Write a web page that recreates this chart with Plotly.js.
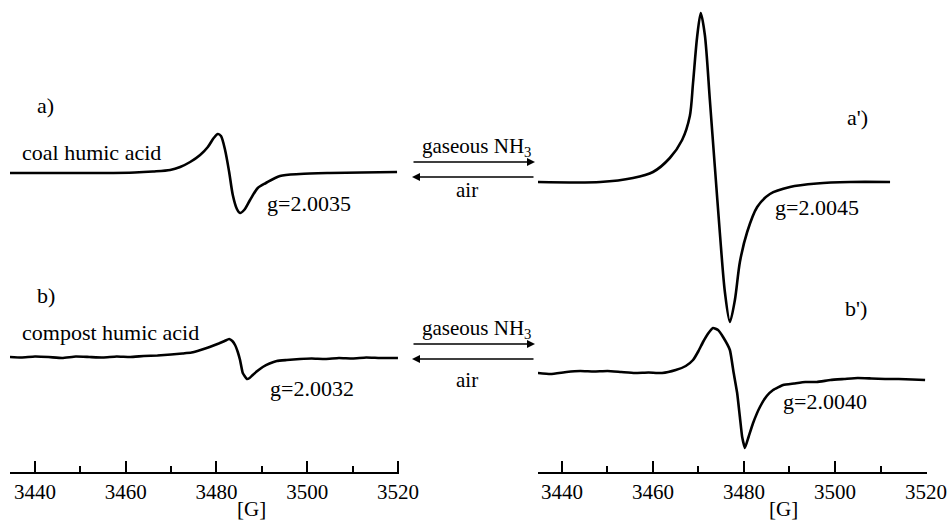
<!DOCTYPE html>
<html>
<head>
<meta charset="utf-8">
<script src="https://cdn.plot.ly/plotly-3.0.1.min.js"></script>
<style>
html,body{margin:0;padding:0;background:#fff;}
#chart{width:949px;height:523px;}
</style>
</head>
<body>
<div id="chart"></div>
<script>
// Magnetic field [G] and EPR signal amplitude (arbitrary units) for each spectrum
const coalField = [3434.5, 3445, 3455, 3462, 3466, 3469.8, 3472, 3474.2, 3476.4, 3478.1, 3479.4, 3480.3, 3481, 3481.9, 3482.8, 3483.6, 3484.5, 3485.2, 3486.1, 3487.4, 3489.1, 3490.9, 3494, 3498.4, 3505, 3512, 3519.8];
const coalSignal = [0, 0, 0, 0.5, 1.5, 3, 6, 11, 18, 26, 35, 39, 37, 23, 1, -22, -36, -40, -37, -27, -15, -10, -3, -1, 0, 0.5, 1];

const coalNH3Field = [3434.7, 3448.4, 3455.6, 3460, 3463.7, 3466.4, 3468.1, 3468.8, 3469.7, 3470.5, 3471.4, 3472.5, 3473.6, 3474.7, 3475.8, 3476.9, 3478, 3479.1, 3480.7, 3482.9, 3485.7, 3490.1, 3496, 3503.3, 3512.1];
const coalNH3Signal = [0, 0, 4, 10, 24, 42, 66, 99, 145, 169, 147, 82, 15, -51, -110, -140, -118, -80, -50, -25, -12, -5, -1.5, 0, 0];

const compostField = [3434.5, 3437, 3440, 3443, 3446, 3449, 3452, 3455, 3458, 3461, 3464, 3467, 3470, 3472.5, 3474.5, 3476.5, 3478.5, 3480.5, 3481.8, 3482.8, 3483.5, 3484.1, 3484.7, 3485.2, 3485.8, 3486.7, 3487.3, 3488, 3489, 3490.2, 3491.7, 3493.3, 3495.5, 3498.4, 3501, 3504, 3507, 3510, 3513, 3516, 3520];
const compostSignal = [0, -0.5, 0.5, 0, -1, 0.5, 0, -0.5, 0.5, 0, 1, 1.5, 2.5, 3.5, 4.5, 7, 10, 13.5, 16, 18, 16, 12, 5, -3, -16, -22, -21, -18, -14, -10, -6.5, -4, -3, -2, -1.5, -2, -1, -1.5, -0.5, -1, -1];

const compostNH3Field = [3434.7, 3437.5, 3441, 3444, 3447, 3450, 3453, 3456, 3459, 3462, 3465, 3467.2, 3468.8, 3470, 3471, 3472.2, 3473.2, 3474.3, 3475.4, 3476.9, 3477.7, 3478.5, 3479.1, 3479.6, 3480.2, 3481, 3482, 3483.5, 3485, 3486.4, 3488.6, 3491, 3493.5, 3496, 3499, 3502, 3505, 3508, 3511, 3514, 3517, 3519.8];
const compostNH3Signal = [-1, -2, 0, 1, 0.5, 1, 0, -1, -0.5, -1, 2, 6, 12, 21, 30, 39, 44, 42, 35, 22, 0, -21, -45, -65, -76, -65, -51, -35, -24, -18, -13, -11.5, -10, -10, -8, -7, -6, -6.5, -7, -7, -7.5, -8];

const tickValues = [3440, 3460, 3480, 3500, 3520];
const minorTickValues = [3450, 3470, 3490, 3510];
const tickLabels = ['3440', '3460', '3480', '3500', '3520'];

(function () {
  // vertical stacking offsets of the spectra
  const offsets = {a: 299, a2: 290, b: 115, b2: 100};
  const shift = (arr, o) => arr.map(v => v + o);

  const W = 949, H = 523;
  const toPx = x => x / W;
  const toPy = y => 1 - y / H;
  const fam = 'Liberation Serif';
  const lineStyle = {color: '#000', width: 2.6};
  const smooth = {color: '#000', width: 2.6, shape: 'spline', smoothing: 0.8};
  const lightSmooth = {color: '#000', width: 2.6, shape: 'spline', smoothing: 0.4};

  const traces = [
    {x: coalField, y: shift(coalSignal, offsets.a), xaxis: 'x', yaxis: 'y', mode: 'lines', line: smooth},
    {x: compostField, y: shift(compostSignal, offsets.b), xaxis: 'x', yaxis: 'y', mode: 'lines', line: lightSmooth},
    {x: coalNH3Field, y: shift(coalNH3Signal, offsets.a2), xaxis: 'x2', yaxis: 'y', mode: 'lines', line: smooth},
    {x: compostNH3Field, y: shift(compostNH3Signal, offsets.b2), xaxis: 'x2', yaxis: 'y', mode: 'lines', line: lightSmooth}
  ];

  function makeAxis(domain, range) {
    return {
      domain: domain, range: range,
      tickmode: 'array', tickvals: tickValues, ticktext: tickLabels,
      showline: true, linecolor: '#000', linewidth: 2,
      ticks: 'inside', ticklen: 11, tickwidth: 2, tickcolor: '#000',
      minor: {tickmode: 'array', tickvals: minorTickValues, ticks: 'inside', ticklen: 6, tickwidth: 2, tickcolor: '#000'},
      showgrid: false, zeroline: false,
      tickfont: {family: fam, size: 21, color: '#000'},
      anchor: 'y'
    };
  }

  function label(text, x, y, xanchor, size) {
    return {text: text, x: toPx(x), y: toPy(y), xref: 'paper', yref: 'paper', showarrow: false,
      xanchor: xanchor || 'left', yanchor: 'middle', font: {family: fam, size: size || 22, color: '#000'}};
  }
  function arrowAnn(xHead, yHead, dx) {
    return {text: '', x: toPx(xHead), y: toPy(yHead), xref: 'paper', yref: 'paper', showarrow: true,
      ax: dx, ay: 0, arrowhead: 2, arrowsize: 1, arrowwidth: 1.6, arrowcolor: '#000'};
  }

  const annotations = [
    label('a)', 35, 105),
    label('coal humic acid', 20, 152),
    label('g=2.0035', 265, 203),
    label("a')", 845, 117),
    label('g=2.0045', 773, 207),
    label('b)', 35, 295),
    label('compost humic acid', 20, 332),
    label('g=2.0032', 268, 388),
    label("b')", 843, 308),
    label('g=2.0040', 781, 402),
    label('gaseous NH<sub>3</sub>', 477, 147, 'center', 21),
    label('air', 467, 190, 'center', 21),
    label('gaseous NH<sub>3</sub>', 477, 329, 'center', 21),
    label('air', 467, 380, 'center', 21),
    label('[G]', 252, 509, 'center', 21),
    label('[G]', 783, 509, 'center', 21),
    arrowAnn(535, 162, -123),
    arrowAnn(412, 177, 123),
    arrowAnn(535, 344, -123),
    arrowAnn(412, 359, 123)
  ];

  const layout = {
    width: W, height: H,
    margin: {l: 0, r: 0, t: 0, b: 0, pad: 0},
    font: {family: fam, color: '#000'},
    showlegend: false,
    xaxis: makeAxis([toPx(10), toPx(399)], [3434.5, 3520.23]),
    xaxis2: makeAxis([toPx(538), toPx(927)], [3434.73, 3520.22]),
    yaxis: {domain: [1 - 472 / H, 1], range: [0, 472], visible: false},
    annotations: annotations
  };

  const config = {staticPlot: true, displayModeBar: false};
  Plotly.newPlot('chart', traces, layout, config);
  if (document.fonts && document.fonts.load) {
    document.fonts.load('21px "Liberation Serif"').then(function () {
      Plotly.react('chart', traces, layout, config);
    }).catch(function () {});
  }
})();
</script>
</body>
</html>
